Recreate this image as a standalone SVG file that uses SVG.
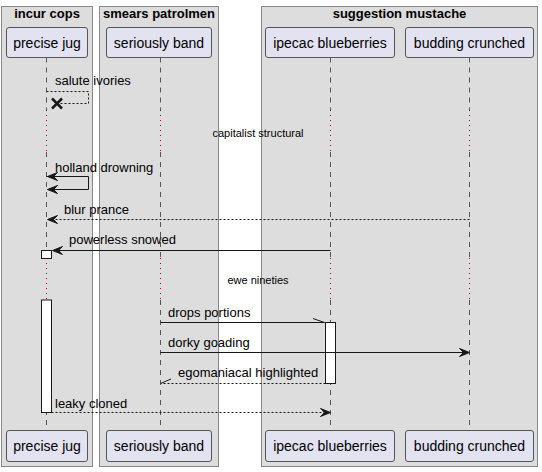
<svg xmlns="http://www.w3.org/2000/svg" width="542" height="472" viewBox="0 0 542 472">
<style>
.grp{fill:#DDDDDD;stroke:#888888;stroke-width:1}
.gt{font-family:"Liberation Sans",Arial,sans-serif;font-size:13px;font-weight:bold;fill:#000;text-anchor:middle}
.pb{fill:#E2E2F0;stroke:#555555;stroke-width:1}
.pt{font-family:"Liberation Sans",Arial,sans-serif;font-size:14px;fill:#000;text-anchor:middle}
.life{stroke:#555555;stroke-width:1;stroke-dasharray:5,5;fill:none}
.delay{stroke:#A80036;stroke-width:1;stroke-dasharray:1,4;fill:none}
.msg{stroke:#181818;stroke-width:1;fill:none}
.dash{stroke:#181818;stroke-width:1;stroke-dasharray:2,2;fill:none}
.mt{font-family:"Liberation Sans",Arial,sans-serif;font-size:13px;fill:#000}
.dt{font-family:"Liberation Sans",Arial,sans-serif;font-size:11px;fill:#000;text-anchor:middle}
.ah{fill:#181818;stroke:#181818;stroke-width:1}
.act{fill:#FFFFFF;stroke:#181818;stroke-width:1}
</style>
<rect width="542" height="472" fill="#FFFFFF"/>
<g id="groups">
<rect class="grp" x="1.5" y="6.5" width="91" height="460"/>
<text class="gt" x="47" y="18">incur cops</text>
<rect class="grp" x="99.5" y="6.5" width="119" height="460"/>
<text class="gt" x="159" y="18">smears patrolmen</text>
<rect class="grp" x="261.5" y="6.5" width="276" height="460"/>
<text class="gt" x="399.5" y="18">suggestion mustache</text>
</g>
<g id="lifelines">
<path class="life" d="M46.5,57.5 V110 M46.5,152 V258 M46.5,300 V430"/>
<path class="delay" d="M46.5,110 V152 M46.5,258 V300"/>
<path class="life" d="M160.5,57.5 V110 M160.5,152 V258 M160.5,300 V430"/>
<path class="delay" d="M160.5,110 V152 M160.5,258 V300"/>
<path class="life" d="M330.5,57.5 V110 M330.5,152 V258 M330.5,300 V430"/>
<path class="delay" d="M330.5,110 V152 M330.5,258 V300"/>
<path class="life" d="M469.5,57.5 V110 M469.5,152 V258 M469.5,300 V430"/>
<path class="delay" d="M469.5,110 V152 M469.5,258 V300"/>
</g>
<g id="activations">
<rect class="act" x="41.5" y="250.5" width="10" height="8"/>
<rect class="act" x="41.5" y="300" width="10" height="112.5"/>
<rect class="act" x="325.5" y="322.5" width="10" height="61"/>
</g>
<g id="p-precise-jug">
<rect class="pb" x="6.5" y="27.5" rx="2.5" ry="2.5" width="81" height="30"/>
<text class="pt" x="47" y="48">precise jug</text>
<rect class="pb" x="6.5" y="430.5" rx="2.5" ry="2.5" width="81" height="31"/>
<text class="pt" x="47" y="451">precise jug</text>
</g>
<g id="p-seriously-band">
<rect class="pb" x="106.5" y="27.5" rx="2.5" ry="2.5" width="105" height="30"/>
<text class="pt" x="159" y="48">seriously band</text>
<rect class="pb" x="106.5" y="430.5" rx="2.5" ry="2.5" width="105" height="31"/>
<text class="pt" x="159" y="451">seriously band</text>
</g>
<g id="p-ipecac-blueberries">
<rect class="pb" x="265.5" y="27.5" rx="2.5" ry="2.5" width="129" height="30"/>
<text class="pt" x="330" y="48">ipecac blueberries</text>
<rect class="pb" x="265.5" y="430.5" rx="2.5" ry="2.5" width="129" height="31"/>
<text class="pt" x="330" y="451">ipecac blueberries</text>
</g>
<g id="p-budding-crunched">
<rect class="pb" x="405.5" y="27.5" rx="2.5" ry="2.5" width="128" height="30"/>
<text class="pt" x="469.5" y="48">budding crunched</text>
<rect class="pb" x="405.5" y="430.5" rx="2.5" ry="2.5" width="128" height="31"/>
<text class="pt" x="469.5" y="451">budding crunched</text>
</g>
<g id="connectors">
<path class="dash" d="M46.5,91.5 H88.5 V103.5 H57"/>
<path d="M52,98.5 L62,108.5 M52,108.5 L62,98.5" stroke="#181818" stroke-width="2.5" fill="none"/>
<text class="mt" x="55" y="85">salute ivories</text>
<text class="dt" x="258" y="137">capitalist structural</text>
<path class="msg" d="M46.5,176.5 H88.5 V189.5 H47.5"/>
<polygon class="ah" points="47.5,176.5 57.5,172.5 53.5,176.5 57.5,180.5"/>
<polygon class="ah" points="47.5,189.5 57.5,185.5 53.5,189.5 57.5,193.5"/>
<text class="mt" x="55" y="172">holland drowning</text>
<path class="dash" d="M469.5,219.5 H48"/>
<polygon class="ah" points="47.5,219.5 57.5,215.5 53.5,219.5 57.5,223.5"/>
<text class="mt" x="64" y="214">blur prance</text>
<path class="msg" d="M330.5,250.5 H53"/>
<polygon class="ah" points="52.5,250.5 62.5,246.5 58.5,250.5 62.5,254.5"/>
<text class="mt" x="69" y="244">powerless snowed</text>
<text class="dt" x="258" y="284">ewe nineties</text>
<path class="msg" d="M160.5,322.5 H324.5 M324.5,322.5 L313,318.5"/>
<text class="mt" x="168" y="317">drops portions</text>
<path class="msg" d="M160.5,352.5 H468"/>
<polygon class="ah" points="469.5,352.5 459.5,348.5 463.5,352.5 459.5,356.5"/>
<text class="mt" x="168" y="347">dorky goading</text>
<path class="dash" d="M325.5,383.5 H161"/>
<path class="msg" d="M160.5,383.5 L171,379"/>
<text class="mt" x="178" y="377">egomaniacal highlighted</text>
<path class="dash" d="M51.5,412.5 H329"/>
<polygon class="ah" points="330.5,412.5 320.5,408.5 324.5,412.5 320.5,416.5"/>
<text class="mt" x="55" y="408">leaky cloned</text>
</g>
</svg>
